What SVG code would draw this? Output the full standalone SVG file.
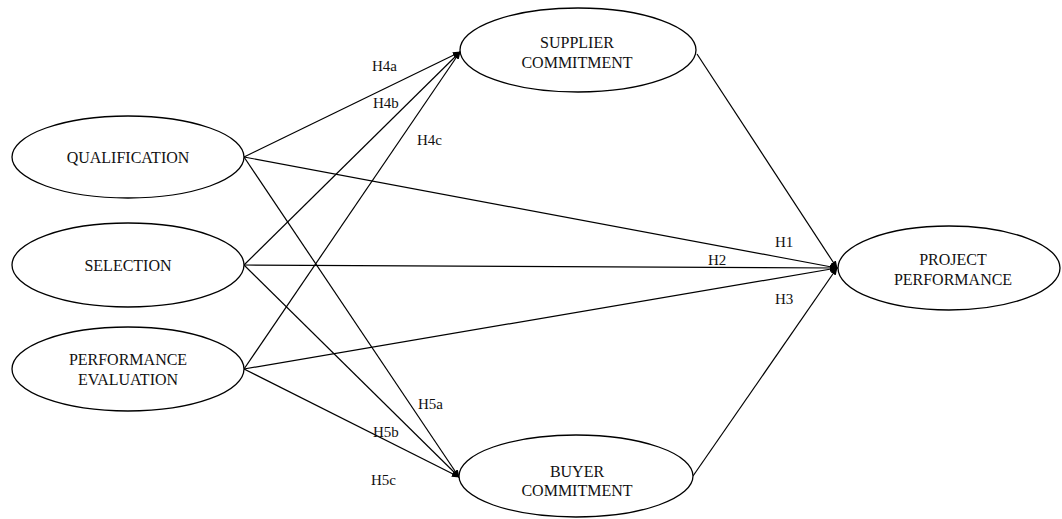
<svg xmlns="http://www.w3.org/2000/svg" width="1062" height="519" viewBox="0 0 1062 519">
<style>
.node ellipse{fill:#fff;stroke:#000;stroke-width:1.3}
.node text{font-family:"Liberation Serif","Times New Roman",serif;font-size:16px;text-anchor:middle;fill:#111}
.lbl{font-family:"Liberation Serif","Times New Roman",serif;font-size:15px;fill:#111}
#connectors line{stroke:#000;stroke-width:1.2;marker-end:url(#arr)}
</style>
<defs>
<marker id="arr" markerWidth="8" markerHeight="8" refX="7" refY="4" orient="auto" markerUnits="userSpaceOnUse">
<path d="M0,0.8 L8,4 L0,7.2 Z" fill="#000"/>
</marker>
</defs>
<rect width="1062" height="519" fill="#fff"/>
<g id="connectors">
<line x1="244" y1="157" x2="460" y2="52"/>
<line x1="244" y1="265" x2="460" y2="52"/>
<line x1="244" y1="369" x2="460" y2="52"/>
<line x1="244" y1="157" x2="459" y2="477"/>
<line x1="244" y1="265" x2="459" y2="477"/>
<line x1="244" y1="369" x2="459" y2="477"/>
<line x1="244" y1="157" x2="837" y2="268"/>
<line x1="244" y1="265" x2="837" y2="268"/>
<line x1="244" y1="369" x2="837" y2="268"/>
<line x1="697" y1="54" x2="837" y2="268"/>
<line x1="693" y1="476" x2="837" y2="268"/>
</g>
<g id="labels">
<text class="lbl" x="372" y="71">H4a</text>
<text class="lbl" x="373" y="108">H4b</text>
<text class="lbl" x="417" y="145">H4c</text>
<text class="lbl" x="775" y="247">H1</text>
<text class="lbl" x="708" y="265">H2</text>
<text class="lbl" x="775" y="304">H3</text>
<text class="lbl" x="418" y="409">H5a</text>
<text class="lbl" x="373" y="437">H5b</text>
<text class="lbl" x="371" y="485">H5c</text>
</g>
<g id="qualification" class="node">
<ellipse cx="128" cy="157" rx="116" ry="41"/>
<text x="128" y="163">QUALIFICATION</text>
</g>
<g id="selection" class="node">
<ellipse cx="128" cy="265" rx="116" ry="42"/>
<text x="128" y="271">SELECTION</text>
</g>
<g id="performance-evaluation" class="node">
<ellipse cx="128" cy="369" rx="116" ry="42"/>
<text x="128" y="365">PERFORMANCE</text>
<text x="128" y="385">EVALUATION</text>
</g>
<g id="supplier-commitment" class="node">
<ellipse cx="578" cy="50" rx="118" ry="42"/>
<text x="577" y="48">SUPPLIER</text>
<text x="577" y="68">COMMITMENT</text>
</g>
<g id="project-performance" class="node">
<ellipse cx="949" cy="268" rx="111" ry="42"/>
<text x="953" y="265">PROJECT</text>
<text x="953" y="285">PERFORMANCE</text>
</g>
<g id="buyer-commitment" class="node">
<ellipse cx="576" cy="476" rx="117" ry="41"/>
<text x="577" y="477">BUYER</text>
<text x="577" y="496">COMMITMENT</text>
</g>
</svg>
